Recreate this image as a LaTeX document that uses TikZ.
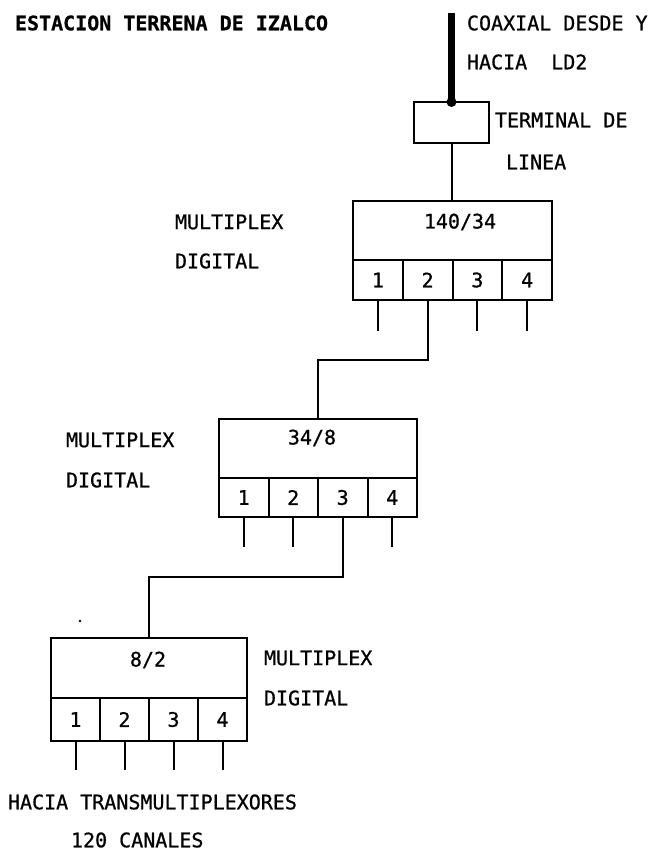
\documentclass[tikz,border=0pt]{standalone}
\usepackage{fontspec}
\newfontfamily\lbfont[FakeBold=0.8]{DejaVu Sans Mono}
\newfontfamily\lbbold[FakeBold=0.6]{DejaVu Sans Mono Bold}
\begin{document}
\begin{tikzpicture}[x=1pt,y=-1pt,
  lb/.style={font=\lbfont\fontsize{20}{24}\selectfont, inner sep=0pt, outer sep=0pt, anchor=west},
  lbc/.style={font=\lbfont\fontsize{20}{24}\selectfont, inner sep=0pt, outer sep=0pt},
  box/.style={draw, line width=2pt, inner sep=0pt, outer sep=0pt},
  muxtop/.style={box, minimum height=59pt},
  port/.style={box, font=\lbfont\fontsize{20}{24}\selectfont, anchor=north west, minimum height=40pt},
  wire/.style={line width=2pt},
  coax/.style={line width=7pt}]
\useasboundingbox (0,0) rectangle (658,852);

% texts
\node[lb, font=\lbbold\fontsize{20}{24}\selectfont] (title) at (15,23) {ESTACION TERRENA DE IZALCO};
\node[lb] (coax1) at (467,23) {COAXIAL DESDE Y};
\node[lb] (coax2) at (467,62) {HACIA\ \ LD2};
\node[lb] (tl1) at (495,120) {TERMINAL DE};
\node[lb] (tl2) at (506,162) {LINEA};
\node[lb] (ma1) at (175,222) {MULTIPLEX};
\node[lb] (ma2) at (175,261) {DIGITAL};
\node[lb] (mb1) at (66,440) {MULTIPLEX};
\node[lb] (mb2) at (66,480) {DIGITAL};
\node[lb] (mc1) at (264,658) {MULTIPLEX};
\node[lb] (mc2) at (264,698) {DIGITAL};
\node[lb] (out1) at (8,802) {HACIA TRANSMULTIPLEXORES};
\node[lb] (out2) at (71,840) {120 CANALES};

% terminal de linea
\node[box, minimum width=75pt, minimum height=41pt] (term) at (451.5,122.5) {};
\coordinate (coaxtop) at (451.5,13);
\draw[coax] (coaxtop) -- (term.north);
\fill (term.north) circle (5pt);

% multiplex 140/34
\node[muxtop, minimum width=199pt] (m1) at (452.5,230.5) {};
\node[lbc] (m1lab) at (460,222) {140/34};
\node[port, minimum width=49.75pt] (m1p1) at (m1.south west) {1};
\node[port, minimum width=49.75pt] (m1p2) at (m1p1.north east) {2};
\node[port, minimum width=49.75pt] (m1p3) at (m1p2.north east) {3};
\node[port, minimum width=49.75pt] (m1p4) at (m1p3.north east) {4};

% multiplex 34/8
\node[muxtop, minimum width=198pt] (m2) at (318,448.5) {};
\node[lbc] (m2lab) at (312,438) {34/8};
\node[port, minimum width=49.5pt, minimum height=39pt] (m2p1) at (m2.south west) {1};
\node[port, minimum width=49.5pt, minimum height=39pt] (m2p2) at (m2p1.north east) {2};
\node[port, minimum width=49.5pt, minimum height=39pt] (m2p3) at (m2p2.north east) {3};
\node[port, minimum width=49.5pt, minimum height=39pt] (m2p4) at (m2p3.north east) {4};

% multiplex 8/2
\node[muxtop, minimum width=196pt, minimum height=60pt] (m3) at (149,668) {};
\node[lbc] (m3lab) at (148,660) {8/2};
\node[port, minimum width=49pt, minimum height=43pt] (m3p1) at (m3.south west) {1};
\node[port, minimum width=49pt, minimum height=43pt] (m3p2) at (m3p1.north east) {2};
\node[port, minimum width=49pt, minimum height=43pt] (m3p3) at (m3p2.north east) {3};
\node[port, minimum width=49pt, minimum height=43pt] (m3p4) at (m3p3.north east) {4};

% connections
\draw[wire] (term.south) -- (term.south |- m1.north);
\coordinate (j1) at (m1p2.south |- 0,360);
\draw[wire] (m1p2.south) -- (j1) -| (m2.north);
\coordinate (j2) at (m2p3.south |- 0,577);
\draw[wire] (m2p3.south) -- (j2) -| (m3.north);

% port stubs
\draw[wire] (m1p1.south) -- ++(0,31);
\draw[wire] (m1p3.south) -- ++(0,31);
\draw[wire] (m1p4.south) -- ++(0,31);
\draw[wire] (m2p1.south) -- ++(0,30);
\draw[wire] (m2p2.south) -- ++(0,30);
\draw[wire] (m2p4.south) -- ++(0,30);
\draw[wire] (m3p1.south) -- ++(0,29);
\draw[wire] (m3p2.south) -- ++(0,29);
\draw[wire] (m3p3.south) -- ++(0,29);
\draw[wire] (m3p4.south) -- ++(0,29);

% speck
\fill (80,621) circle (1.3pt);
\end{tikzpicture}
\end{document}
